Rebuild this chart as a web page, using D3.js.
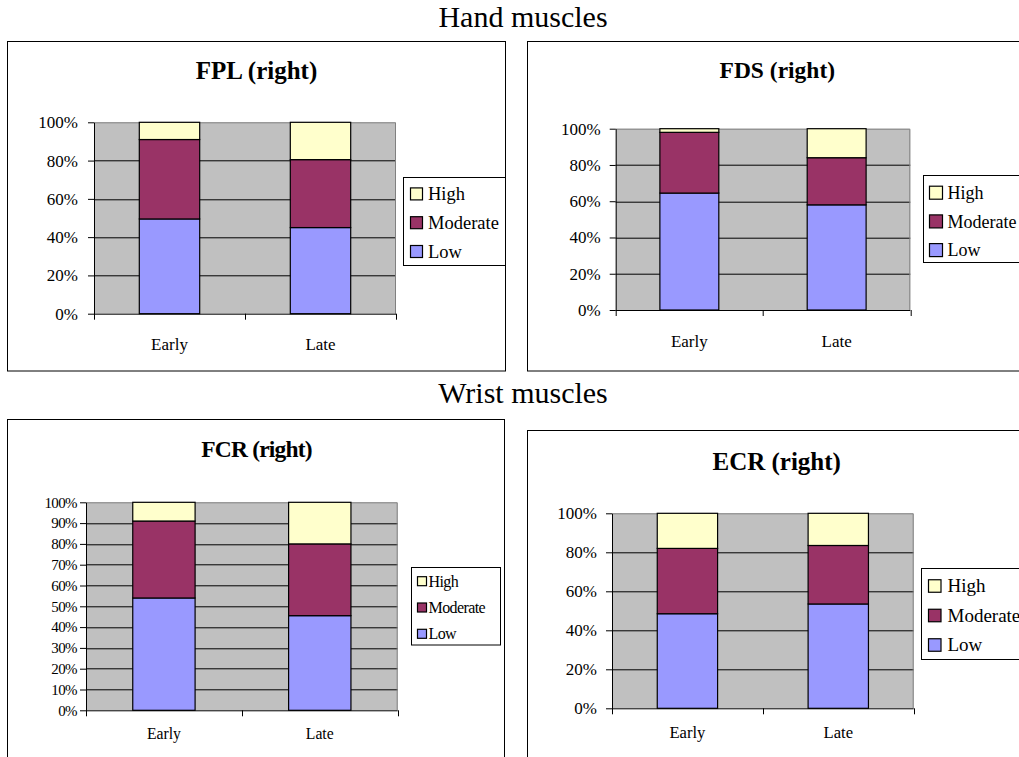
<!DOCTYPE html>
<html>
<head>
<meta charset="utf-8">
<script src="https://cdn.jsdelivr.net/npm/d3@7/dist/d3.min.js"></script>
<style>
  html, body { margin: 0; padding: 0; background: #fff; }
  svg { display: block; }
  text { font-family: "Liberation Serif", "Times New Roman", serif; fill: #000; }
</style>
</head>
<body>
<svg id="chart" width="1019" height="757"></svg>
<script>
// Activity level shares (%) per recording period, one array per muscle and level
const periods = ["Early", "Late"];
const levels = ["Low", "Moderate", "High"];

const fplLow = [49.5, 45];
const fplModerate = [41.5, 35.5];
const fplHigh = [9, 19.5];

const fdsLow = [64.5, 58];
const fdsModerate = [33.5, 26];
const fdsHigh = [2, 16];

const fcrLow = [54, 45.5];
const fcrModerate = [37, 34.5];
const fcrHigh = [9, 20];

const ecrLow = [48.5, 53.5];
const ecrModerate = [33.5, 30];
const ecrHigh = [18, 16.5];

const ticksBy20 = [0, 20, 40, 60, 80, 100];
const ticksBy10 = [0, 10, 20, 30, 40, 50, 60, 70, 80, 90, 100];

const sectionTitles = ["Hand muscles", "Wrist muscles"];

const levelColors = { Low: "#9999FF", Moderate: "#993366", High: "#FFFFCC" };

// Panel layout: frame, plot area, text sizes and legend placement
const panels = [
  {
    title: "FPL (right)", low: fplLow, moderate: fplModerate, high: fplHigh, ticks: ticksBy20,
    frame: [7.5, 41.5, 498, 329.5], plot: [94, 122.3, 302, 191.4],
    titleX: 256.5, titleY: 79.3, titleSize: 25, tickFont: 17, tickPad: 10, catFont: 17, catGap: 36,
    legend: { x: 403.5, y: 177.5, w: 102, h: 88, first: 16.4, step: 28.8, sw: 12, swX: 7, textX: 24.5, font: 18.5 }
  },
  {
    title: "FDS (right)", low: fdsLow, moderate: fdsModerate, high: fdsHigh, ticks: ticksBy20,
    frame: [527.5, 41.5, 520, 329.5], plot: [615.7, 128.7, 294.6, 181.3],
    titleX: 777.3, titleY: 78.3, titleSize: 23.5, tickFont: 17, tickPad: 9, catFont: 17, catGap: 37,
    legend: { x: 923.5, y: 175.5, w: 120, h: 87, first: 17.2, step: 28.7, sw: 13, swX: 6, textX: 24, font: 18 }
  },
  {
    title: "FCR (right)", low: fcrLow, moderate: fcrModerate, high: fcrHigh, ticks: ticksBy10,
    frame: [7.5, 419.5, 497, 360], plot: [86, 502.3, 311.7, 208],
    titleX: 256.5, titleY: 457.3, titleSize: 23.5, titleSpacing: -0.8, tickFont: 15, tickPad: 3,
    tickSpacing: -0.6, catFont: 15.7, catGap: 29,
    legend: { x: 411.5, y: 567.5, w: 89, h: 77.5, first: 13.7, step: 26.3, sw: 9, swX: 6, textX: 17, font: 16, spacing: -0.6 }
  },
  {
    title: "ECR (right)", low: ecrLow, moderate: ecrModerate, high: ecrHigh, ticks: ticksBy20,
    frame: [527.5, 430.5, 520, 360], plot: [612, 513.3, 301.7, 195],
    titleX: 776.7, titleY: 470, titleSize: 25, tickFont: 17, tickPad: 9, catFont: 16.6, catGap: 30,
    legend: { x: 921.5, y: 568.5, w: 120, h: 91, first: 17.5, step: 29.5, sw: 12.5, swX: 7, textX: 26, font: 19 }
  }
];

const svg = d3.select("#chart");

// Section headings
svg.append("text").attr("x", 523).attr("y", 26.7).attr("text-anchor", "middle")
  .style("font-size", "30px").text(sectionTitles[0]);
svg.append("text").attr("x", 523).attr("y", 403.3).attr("text-anchor", "middle")
  .style("font-size", "30px").text(sectionTitles[1]);

const stack = d3.stack().keys(levels);

panels.forEach(p => {
  const rows = periods.map((period, i) => ({
    period, Low: p.low[i], Moderate: p.moderate[i], High: p.high[i]
  }));
  const series = stack(rows);

  // Outer chart frame
  svg.append("rect")
    .attr("x", p.frame[0]).attr("y", p.frame[1])
    .attr("width", p.frame[2]).attr("height", p.frame[3])
    .attr("fill", "#fff").attr("stroke", "#000").attr("stroke-width", 1);

  // Title
  svg.append("text")
    .attr("x", p.titleX).attr("y", p.titleY)
    .attr("text-anchor", "middle")
    .style("font-size", p.titleSize + "px").style("font-weight", "bold")
    .style("letter-spacing", (p.titleSpacing || 0) + "px")
    .text(p.title);

  const [px, py, pw, ph] = p.plot;
  const g = svg.append("g").attr("transform", `translate(${px},${py})`);

  const x = d3.scaleBand().domain(periods).range([0, pw]);
  const y = d3.scaleLinear().domain([0, 100]).range([ph, 0]);

  // Plot background
  g.append("rect").attr("width", pw).attr("height", ph).attr("fill", "#C0C0C0");

  // Horizontal gridlines
  g.selectAll("line.grid")
    .data(p.ticks.filter(t => t > 0 && t < 100))
    .join("line")
    .attr("class", "grid")
    .attr("x1", 0).attr("x2", pw)
    .attr("y1", d => Math.round(y(d)) + 0.5).attr("y2", d => Math.round(y(d)) + 0.5)
    .attr("stroke", "#000").attr("stroke-width", 1);

  // Plot border (top and right in gray)
  g.append("path")
    .attr("d", `M0,0.5H${pw - 0.5}V${ph}`)
    .attr("fill", "none").attr("stroke", "#808080").attr("stroke-width", 1);

  // Stacked bars
  const barW = x.bandwidth() * 0.4;
  const barOff = x.bandwidth() * 0.3;
  g.selectAll("g.layer")
    .data(series)
    .join("g")
    .attr("class", "layer")
    .attr("fill", d => levelColors[d.key])
    .selectAll("rect")
    .data(d => d)
    .join("rect")
    .attr("x", d => x(d.data.period) + barOff)
    .attr("width", barW)
    .attr("y", d => y(d[1]))
    .attr("height", d => y(d[0]) - y(d[1]))
    .attr("stroke", "#000").attr("stroke-width", 1.2);

  // Y axis
  const yAxis = d3.axisLeft(y)
    .tickValues(p.ticks)
    .tickSize(6)
    .tickSizeOuter(0)
    .tickPadding(p.tickPad)
    .tickFormat(d => d + "%");
  const ya = g.append("g").call(yAxis);
  ya.attr("font-family", null);
  ya.select(".domain").attr("stroke", "#000");
  ya.selectAll(".tick line").attr("stroke", "#000");
  ya.selectAll("text")
    .style("font-size", p.tickFont + "px")
    .style("letter-spacing", (p.tickSpacing || 0) + "px");

  // X axis: baseline with ticks at category boundaries
  const bounds = [0, ...periods.map(c => x(c) + x.bandwidth())];
  g.append("line").attr("x1", 0).attr("x2", pw)
    .attr("y1", ph + 0.5).attr("y2", ph + 0.5).attr("stroke", "#000");
  g.selectAll("line.xtick")
    .data(bounds)
    .join("line")
    .attr("class", "xtick")
    .attr("x1", d => Math.round(d) + 0.5).attr("x2", d => Math.round(d) + 0.5)
    .attr("y1", ph).attr("y2", ph + 6)
    .attr("stroke", "#000");
  g.selectAll("text.cat")
    .data(periods)
    .join("text")
    .attr("class", "cat")
    .attr("x", d => x(d) + x.bandwidth() / 2)
    .attr("y", ph + p.catGap)
    .attr("text-anchor", "middle")
    .style("font-size", p.catFont + "px")
    .text(d => d);

  // Legend
  const L = p.legend;
  const lg = svg.append("g").attr("transform", `translate(${L.x},${L.y})`);
  lg.append("rect").attr("width", L.w).attr("height", L.h)
    .attr("fill", "#fff").attr("stroke", "#000").attr("stroke-width", 1);
  const items = levels.slice().reverse();
  const item = lg.selectAll("g.item")
    .data(items)
    .join("g")
    .attr("class", "item")
    .attr("transform", (d, i) => `translate(0,${L.first + i * L.step})`);
  item.append("rect")
    .attr("x", L.swX).attr("y", -L.sw / 2)
    .attr("width", L.sw).attr("height", L.sw)
    .attr("fill", d => levelColors[d])
    .attr("stroke", "#000").attr("stroke-width", 1.2);
  item.append("text")
    .attr("x", L.textX).attr("dy", "0.34em")
    .style("font-size", L.font + "px")
    .style("letter-spacing", (L.spacing || 0) + "px")
    .text(d => d);
});
</script>
</body>
</html>
